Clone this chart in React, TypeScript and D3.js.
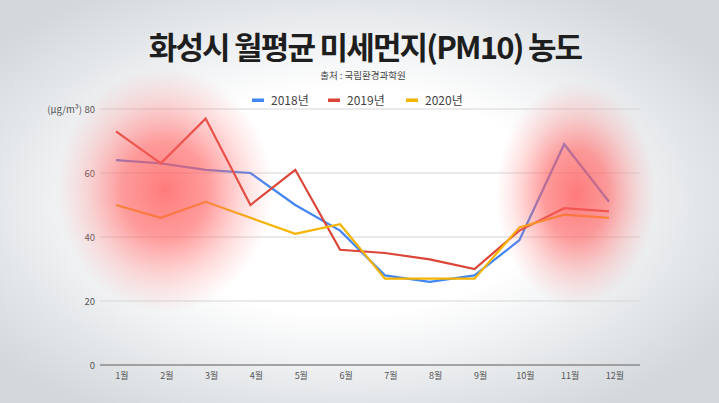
import * as d3 from "d3";
import React, { useEffect, useRef } from "react";

const months = ["1월", "2월", "3월", "4월", "5월", "6월", "7월", "8월", "9월", "10월", "11월", "12월"];
const pm2018 = [64, 63, 61, 60, 50, 42, 28, 26, 28, 39, 69, 51];
const pm2019 = [73, 63, 77, 50, 61, 36, 35, 33, 30, 42, 49, 48];
const pm2020 = [50, 46, 51, 46, 41, 44, 27, 27, 27, 43, 47, 46];
const yTicks = [0, 20, 40, 60, 80];

const seriesNames = ["2018년", "2019년", "2020년"];
const seriesColors = ["#4285f4", "#db4437", "#f4b400"];

const FONT = "'Noto Sans CJK KR', 'Noto Sans', sans-serif";

export default function App() {
  const ref = useRef<SVGSVGElement | null>(null);

  useEffect(() => {
    const width = 719;
    const height = 403;
    const svg = d3.select(ref.current);
    svg.selectAll("*").remove();
    svg.attr("width", width).attr("height", height);

    const defs = svg.append("defs");
    const bg = defs
      .append("radialGradient")
      .attr("id", "bg")
      .attr("cx", "48%")
      .attr("cy", "50%")
      .attr("r", "62%");
    bg.append("stop").attr("offset", "0.45").attr("stop-color", "#ffffff");
    bg.append("stop").attr("offset", "1").attr("stop-color", "#d3d8dc");

    const glow = defs.append("radialGradient").attr("id", "glow");
    glow.append("stop").attr("offset", "0").attr("stop-color", "#ff5a5a").attr("stop-opacity", 0.8);
    glow.append("stop").attr("offset", "0.4").attr("stop-color", "#ff5f5f").attr("stop-opacity", 0.62);
    glow.append("stop").attr("offset", "0.72").attr("stop-color", "#ff7070").attr("stop-opacity", 0.25);
    glow.append("stop").attr("offset", "1").attr("stop-color", "#ff8a8a").attr("stop-opacity", 0);

    svg.append("rect").attr("width", width).attr("height", height).attr("fill", "url(#bg)");

    const margin = { top: 109, right: 79, bottom: 38, left: 100 };
    const y = d3
      .scaleLinear()
      .domain([0, 80])
      .range([height - margin.bottom, margin.top]);
    const x = d3
      .scalePoint<string>()
      .domain(months)
      .range([116, 609]);

    const g = svg.append("g");

    // grid
    g.selectAll("line.grid")
      .data(yTicks)
      .enter()
      .append("line")
      .attr("x1", margin.left)
      .attr("x2", width - margin.right)
      .attr("y1", (d) => y(d))
      .attr("y2", (d) => y(d))
      .attr("stroke", (d) => (d === 0 ? "#8a8a8a" : "#d6d6d6"))
      .attr("stroke-width", (d) => (d === 0 ? 1.5 : 1));

    g.selectAll("text.ytick")
      .data(yTicks)
      .enter()
      .append("text")
      .attr("x", 95)
      .attr("y", (d) => y(d) + 3.5)
      .attr("text-anchor", "end")
      .attr("font-family", FONT)
      .attr("font-size", 9.5)
      .attr("fill", "#555")
      .text((d) => d);

    g.append("text")
      .attr("x", 82)
      .attr("y", y(80) + 3.5)
      .attr("text-anchor", "end")
      .attr("font-family", FONT)
      .attr("font-size", 9.5)
      .attr("fill", "#555")
      .text("(μg/m³)");

    g.selectAll("text.xtick")
      .data(months)
      .enter()
      .append("text")
      .attr("x", (d) => x(d)! + 6)
      .attr("y", 379)
      .attr("text-anchor", "middle")
      .attr("font-family", FONT)
      .attr("font-size", 9)
      .attr("fill", "#555")
      .text((d) => d);

    const line = d3
      .line<number>()
      .x((_, i) => x(months[i])!)
      .y((d) => y(d));

    [pm2018, pm2019, pm2020].forEach((s, i) => {
      g.append("path")
        .datum(s)
        .attr("d", line)
        .attr("fill", "none")
        .attr("stroke", seriesColors[i])
        .attr("stroke-width", 2.2)
        .attr("stroke-linejoin", "miter");
    });

    // red glows
    g.append("ellipse")
      .attr("cx", 165)
      .attr("cy", 190)
      .attr("rx", 108)
      .attr("ry", 122)
      .attr("fill", "url(#glow)");
    g.append("ellipse")
      .attr("cx", 576)
      .attr("cy", 194)
      .attr("rx", 80)
      .attr("ry", 112)
      .attr("fill", "url(#glow)");

    // legend
    const legendX = [252, 328, 406];
    seriesNames.forEach((n, i) => {
      g.append("rect")
        .attr("x", legendX[i])
        .attr("y", 98.5)
        .attr("width", 12)
        .attr("height", 3.5)
        .attr("fill", seriesColors[i]);
      g.append("text")
        .attr("x", legendX[i] + 19)
        .attr("y", 105)
        .attr("font-family", FONT)
        .attr("font-size", 12)
        .attr("fill", "#444")
        .text(n);
    });

    svg.append("text")
      .attr("x", 365)
      .attr("y", 59)
      .attr("text-anchor", "middle")
      .attr("font-family", FONT)
      .attr("font-weight", 700)
      .attr("font-size", 31)
      .attr("letter-spacing", -1.8)
      .attr("fill", "#1e1e1e")
      .text("화성시 월평균 미세먼지(PM10) 농도");

    svg.append("text")
      .attr("x", 363)
      .attr("y", 79)
      .attr("text-anchor", "middle")
      .attr("font-family", FONT)
      .attr("font-size", 9.5)
      .attr("fill", "#444")
      .text("출처 : 국립환경과학원");
  }, []);

  return <svg ref={ref} style={{ position: "absolute", left: 0, top: 0 }} />;
}
